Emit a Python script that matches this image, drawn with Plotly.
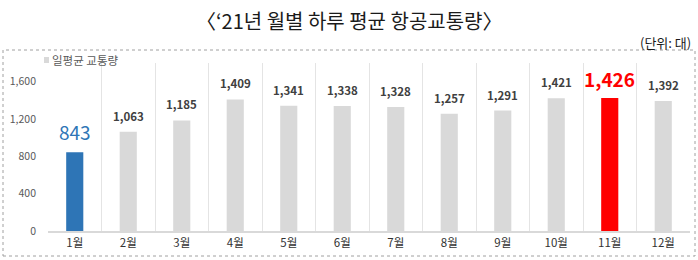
import plotly.graph_objects as go

months = ["1월", "2월", "3월", "4월", "5월", "6월", "7월", "8월", "9월", "10월", "11월", "12월"]
traffic = [843, 1063, 1185, 1409, 1341, 1338, 1328, 1257, 1291, 1421, 1426, 1392]
y_ticks = [0, 400, 800, 1200, 1600]

GRAY = "#D9D9D9"
BLUE = "#2E75B6"
RED = "#FF0000"

colors = [GRAY] * len(months)
colors[0] = BLUE
colors[10] = RED

FONT = "Noto Sans CJK KR"

fig = go.Figure(go.Bar(
    x=months, y=traffic,
    marker=dict(color=colors, line=dict(width=0)),
    width=0.32,
    showlegend=False,
    hoverinfo="x+y",
))

label_annots = []
for i, (m, v) in enumerate(zip(months, traffic)):
    if i == 0:
        font = dict(size=19, color=BLUE, family=FONT)
        shift = 5
    elif i == 10:
        font = dict(size=19, color=RED, family=FONT, weight="bold")
        shift = 4
    else:
        font = dict(size=11.5, color="#404040", family=FONT, weight="bold")
        shift = 6
    label_annots.append(dict(
        x=m, y=v, xref="x", yref="y", text=f"{v:,}", showarrow=False,
        xanchor="center", yanchor="bottom", yshift=shift, font=font,
    ))

fig.update_layout(
    width=698, height=260,
    margin=dict(l=48, r=8, t=63, b=29),
    paper_bgcolor="white", plot_bgcolor="white",
    font=dict(family=FONT),
    xaxis=dict(
        type="category", tickson="boundaries", showgrid=True, gridcolor="#E4E4E4", gridwidth=1,
        ticks="", showline=True, linecolor=GRAY, linewidth=2,
        tickfont=dict(size=11.5, color="#333333"), fixedrange=True,
    ),
    yaxis=dict(
        range=[0, 1800], tickvals=y_ticks, ticktext=[f"{v:,}" for v in y_ticks],
        showgrid=False, zeroline=False, showline=False, ticks="",
        tickfont=dict(size=10.5, color="#595959"), ticklabelstandoff=11,
    ),
    shapes=[
        dict(type="rect", xref="paper", yref="paper",
             x0=(3 - 48) / 642, x1=(695 - 48) / 642,
             y0=-(256 - 231) / 168, y1=(231 - 50) / 168,
             line=dict(color="#A0A0A0", width=1, dash="dot")),
        dict(type="rect", xref="paper", yref="paper",
             x0=(44 - 48) / 642, x1=(49 - 48) / 642,
             y0=(231 - 63) / 168, y1=(231 - 57) / 168,
             fillcolor=GRAY, line=dict(width=0)),
    ],
    annotations=label_annots + [
        dict(text="〈‘21년 월별 하루 평균 항공교통량〉", xref="paper", yref="paper",
             x=(349 - 48) / 642, y=(231 - 20) / 168, showarrow=False,
             xanchor="center", yanchor="middle",
             font=dict(size=20, color="#1A1A1A", family=FONT)),
        dict(text="(단위: 대)", xref="paper", yref="paper",
             x=(693 - 48) / 642, y=(231 - 42) / 168, showarrow=False,
             xanchor="right", yanchor="middle",
             font=dict(size=13, color="#1A1A1A", family=FONT)),
        dict(text="일평균 교통량", xref="paper", yref="paper",
             x=(50 - 48) / 642, y=(231 - 60) / 168, showarrow=False,
             xanchor="left", yanchor="middle",
             font=dict(size=11.5, color="#595959", family=FONT)),
    ],
)

fig.write_html("out.html")
